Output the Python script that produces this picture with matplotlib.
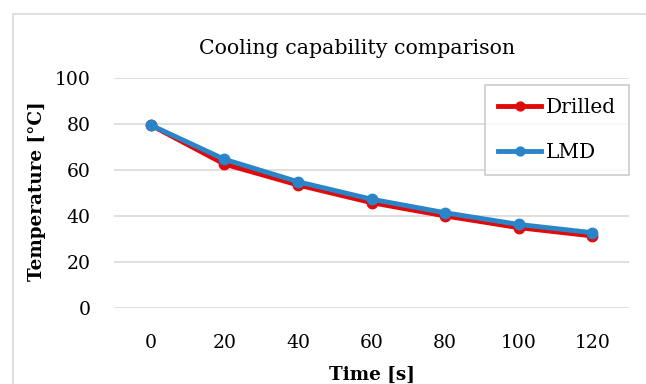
"""
Cooling capability comparison: Drilled vs LMD channel temperature over time.
"""

import matplotlib

matplotlib.use("Agg")
import matplotlib.pyplot as plt
from matplotlib.patches import Rectangle
import numpy as np

time_labels = ["0", "20", "40", "60", "80", "100", "120"]
drilled = [79.6, 62.6, 53.5, 45.8, 40.0, 34.9, 31.3]
lmd = [79.6, 64.7, 54.9, 47.3, 41.4, 36.3, 32.7]
y_ticks = [0, 20, 40, 60, 80, 100]

RED = "#E10A0A"
BLUE = "#2A85C8"
GRID = "#D9D9D9"

plt.rcParams["font.family"] = ["DejaVu Serif"]

fig = plt.figure(figsize=(6.46, 3.84), dpi=100)
W, H = 646, 384

# chart border (Excel chart area), runs off the right/bottom edges
fig.patches.append(Rectangle((13 / W, -0.1), 1.0, 1 - 14 / H + 0.1, transform=fig.transFigure,
                             fill=False, edgecolor=GRID, linewidth=1.2))

ax = fig.add_axes([114 / W, (H - 307.7) / H, (629 - 114) / W, (307.7 - 78.3) / H])
x = np.arange(len(time_labels))

ax.plot(x, drilled, color=RED, lw=3.5, marker="o", ms=7.5, label="Drilled", zorder=3)
ax.plot(x, lmd, color=BLUE, lw=3.5, marker="o", ms=7.5, label="LMD", zorder=4)

ax.set_xlim(-0.5, len(time_labels) - 0.5)
ax.set_ylim(0, 100)
ax.set_yticks(y_ticks)
ax.set_xticks(x)
ax.set_xticklabels(time_labels)
ax.tick_params(length=0, labelsize=13.5, colors="black")
ax.tick_params(axis="x", pad=19)
ax.tick_params(axis="y", pad=17)
ax.grid(axis="y", color=GRID, lw=1.2)
ax.set_axisbelow(True)
for s in ax.spines.values():
    s.set_visible(False)

ax.set_xlabel("Time [s]", fontsize=13.2, fontweight="bold")
ax.set_ylabel("Temperature [°C]", fontsize=13.2, fontweight="bold")
ax.xaxis.set_label_coords(0.5, -(375 - 307.7) / (307.7 - 78.3))
ax.yaxis.set_label_coords(-(114 - 37) / (629 - 114), 0.5 + (195 - 193) / (307.7 - 78.3))
ax.xaxis.label.set_va("center")
ax.yaxis.label.set_va("center")

fig.text(357 / W, 1 - 49 / H, "Cooling capability comparison", fontsize=14.75,
         ha="center", va="center")

leg = ax.legend(loc="upper right", bbox_to_anchor=(629 / W, 1 - 85 / H),
                bbox_transform=fig.transFigure, fontsize=14.5, frameon=True, fancybox=False,
                edgecolor="#BFBFBF", handlelength=2.1, handletextpad=0.25,
                labelspacing=1.3, borderpad=0.65, borderaxespad=0, markerscale=0.85)
leg.get_frame().set_linewidth(1.2)

plt.savefig("out.png", dpi=100)
plt.close()
